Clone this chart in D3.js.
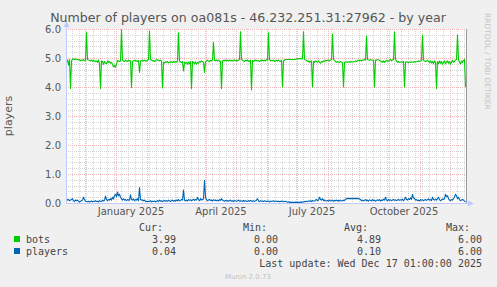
<!DOCTYPE html>
<html>
<head>
<meta charset="utf-8">
<script src="https://cdn.jsdelivr.net/npm/d3@7/dist/d3.min.js"></script>
<style>
body { margin: 0; background: #f0f0f0; }
text { font-family: "DejaVu Sans", sans-serif; fill: #555; }
.mono { font-family: "DejaVu Sans Mono", monospace; font-size: 10px; fill: #444; }
</style>
</head>
<body>
<div id="chart"></div>
<script>
// daily values, first day = Nov 12 2024
var startDay = "2024-11-12", endDay = "2025-12-17";

var bots = [
  4.85,4.93,4.75,4.95,3.95,4.9,4.97,4.96,4.95,4.97,
  4.96,4.95,4.93,4.95,4.9,4.93,4.92,4.95,4.9,4.93,
  5.88,4.95,4.93,4.92,4.9,4.93,4.88,4.92,4.9,4.88,
  4.9,4.85,4.93,4.8,3.95,4.9,4.88,4.78,4.88,4.82,
  4.8,4.9,4.85,4.88,4.82,4.85,4.78,4.7,4.75,4.68,
  4.8,4.92,4.9,4.88,4.9,5.97,4.93,4.9,4.88,4.92,
  4.9,4.88,4.92,4.9,4.9,3.98,4.88,4.9,4.92,4.9,
  4.9,4.88,4.92,4.5,4.9,4.92,4.9,4.9,4.92,4.9,
  4.9,4.92,4.95,5.93,4.95,4.93,4.9,4.92,4.88,4.9,
  4.95,4.92,4.93,4.9,4.92,4.9,3.97,4.85,4.83,4.87,
  4.85,4.88,4.83,4.86,4.85,4.87,4.84,4.88,4.85,4.88,
  4.86,4.9,5.87,4.9,4.86,4.84,4.88,4.55,4.85,4.82,
  4.85,4.78,4.86,4.8,4.88,3.95,4.88,4.85,4.8,4.87,
  4.78,4.85,4.82,4.88,4.86,4.9,4.88,4.85,4.5,4.88,
  4.9,4.92,4.9,4.88,4.92,4.9,4.93,5.54,4.92,4.9,
  4.93,4.9,4.92,4.9,4.88,3.95,4.9,4.92,4.9,4.93,
  4.9,4.92,4.9,4.93,4.9,4.92,4.9,4.92,4.93,4.9,
  4.92,4.9,4.93,4.95,5.9,4.95,4.93,4.9,4.88,4.92,
  4.9,4.93,4.88,4.9,4.92,3.9,4.92,4.88,4.9,4.93,
  4.9,4.92,4.9,4.88,4.92,4.9,4.93,4.9,4.92,4.9,
  4.95,4.93,5.87,4.95,4.9,4.92,4.9,4.93,4.88,4.9,
  4.92,4.9,4.93,4.9,4.88,4.92,4.0,4.9,4.92,4.95,
  4.95,4.95,4.95,4.95,4.95,4.95,4.95,4.95,4.95,4.96,
  4.96,4.97,4.98,4.98,4.97,4.98,4.97,5.9,4.97,4.93,
  4.92,4.88,4.9,4.85,4.88,4.9,4.0,4.88,4.85,4.9,
  4.88,4.86,4.9,4.85,4.82,4.88,4.86,4.9,4.88,4.92,
  4.9,4.93,4.92,4.9,4.93,4.95,5.83,4.95,4.92,4.88,
  4.85,4.88,4.86,4.85,4.88,4.86,4.84,4.0,4.85,4.86,
  4.87,4.85,4.86,4.87,4.85,4.88,4.86,4.87,4.88,4.9,
  4.88,4.9,4.93,4.9,4.92,4.9,4.93,4.92,4.95,4.93,
  5.76,4.95,4.93,4.92,4.95,4.93,4.92,4.93,4.0,4.93,
  4.92,4.95,4.93,4.92,4.9,4.88,4.85,4.9,4.85,4.88,
  4.92,4.9,4.88,4.92,4.95,4.9,4.93,4.95,5.9,4.95,
  4.9,4.85,4.88,4.85,4.86,4.87,4.85,4.88,4.0,4.85,
  4.87,4.85,4.84,4.86,4.85,4.87,4.86,4.85,4.88,4.86,
  4.87,4.88,4.9,4.88,4.9,4.92,5.79,4.93,4.9,4.88,
  4.9,4.92,4.88,4.85,4.9,4.83,4.88,4.8,4.9,4.85,
  3.95,4.88,4.8,4.9,4.82,4.88,4.78,4.85,4.9,4.8,
  4.85,4.9,4.82,4.88,4.78,4.86,4.92,4.85,4.88,4.93,
  4.95,5.79,4.95,4.85,4.8,4.9,4.85,4.92,4.95,3.99
];

var players = [
  .15,.1,.12,.08,.1,.12,.15,.08,.05,.1,
  .08,.1,.06,.03,.06,.08,.1,.2,.12,.06,
  .05,.04,.06,.03,.05,.07,.04,.06,.05,.08,
  .05,.06,.04,.08,.06,.05,.1,.07,.09,.24,
  .12,.08,.12,.1,.15,.1,.2,.14,.25,.3,
  .22,.38,.25,.3,.2,.15,.1,.14,.1,.12,
  .08,.12,.1,.1,.28,.12,.1,.14,.08,.12,
  .1,.15,.08,.53,.12,.1,.1,.08,.1,.05,
  .06,.04,.06,.05,.08,.04,.06,.05,.07,.04,
  .06,.08,.05,.1,.06,.08,.05,.07,.09,.06,
  .08,.06,.1,.07,.05,.08,.1,.06,.09,.07,
  .1,.08,.12,.07,.09,.12,.1,.45,.1,.08,
  .1,.07,.12,.09,.11,.08,.1,.13,.09,.12,
  .1,.2,.12,.08,.15,.1,.12,.14,.78,.2,
  .12,.08,.1,.12,.09,.1,.07,.11,.09,.1,
  .08,.1,.07,.12,.09,.15,.1,.08,.06,.09,
  .07,.09,.06,.08,.1,.06,.08,.05,.09,.07,
  .06,.08,.1,.06,.08,.07,.05,.09,.06,.08,
  .07,.05,.08,.06,.09,.07,.05,.08,.06,.07,
  .1,.15,.07,.05,.08,.06,.07,.05,.08,.06,
  .05,.07,.06,.04,.07,.05,.06,.08,.05,.06,
  .07,.05,.06,.04,.06,.05,.07,.04,.05,.06,
  .04,.03,.04,.02,.03,.02,.03,.02,.02,.03,
  .02,.03,.02,.02,.03,.02,.04,.03,.05,.04,
  .06,.05,.07,.06,.08,.05,.09,.07,.06,.1,
  .12,.08,.1,.2,.12,.1,.15,.09,.1,.08,
  .07,.09,.06,.1,.08,.07,.1,.06,.09,.08,
  .1,.07,.09,.06,.1,.08,.07,.1,.09,.12,
  .15,.16,.15,.16,.15,.16,.15,.16,.15,.16,
  .15,.16,.15,.14,.12,.08,.1,.07,.09,.12,
  .08,.1,.06,.11,.09,.07,.12,.08,.1,.06,
  .09,.11,.08,.12,.07,.1,.09,.13,.1,.2,
  .1,.08,.12,.09,.11,.08,.1,.12,.09,.11,
  .08,.1,.12,.09,.11,.1,.13,.08,.12,.2,
  .12,.1,.15,.12,.18,.12,.3,.18,.15,.1,
  .12,.08,.1,.07,.12,.09,.11,.08,.1,.12,
  .09,.11,.14,.1,.12,.08,.2,.12,.1,.13,
  .1,.15,.2,.12,.08,.1,.14,.12,.15,.3,
  .22,.25,.15,.1,.08,.12,.1,.15,.2,.3,
  .25,.15,.2,.12,.08,.1,.12,.1,.06,.04
];

var yTicks = [0, 1, 2, 3, 4, 5, 6];
var xTickLabels = ["January 2025", "April 2025", "July 2025", "October 2025"];

var seriesNames = ["bots", "players"];
var seriesColors = ["#00cc00", "#0066b3"];
var curVals = ["3.99", "0.04"];
var minVals = ["0.00", "0.00"];
var avgVals = ["4.89", "0.10"];
var maxVals = ["6.00", "6.00"];

var width = 497, height = 287;
var svg = d3.select("#chart").append("svg")
    .attr("width", width)
    .attr("height", height);

var parseDay = d3.utcParse("%Y-%m-%d");
var t0 = parseDay(startDay), t1 = parseDay(endDay);

var x = d3.scaleUtc().domain([t0, t1]).range([66, 466]);
var y = d3.scaleLinear().domain([0, 6]).range([203, 29]);

function dayOf(i) { return d3.utcHour.offset(t0, i * 24 + 12); }

// canvas
svg.append("rect")
    .attr("x", 66).attr("y", 29)
    .attr("width", 400).attr("height", 174)
    .attr("fill", "#fff");

var grid = svg.append("g").attr("shape-rendering", "crispEdges");
var minorCol = "#d6d6d6", majorCol = "#f0b8b8";

// minor grid
var yMinor = d3.range(0, 6.01, 0.2).filter(function(v) { return Math.abs(v - Math.round(v)) > 0.01; });
grid.selectAll(".ymin").data(yMinor).enter().append("line")
    .attr("x1", 66).attr("x2", 466)
    .attr("y1", function(d) { return Math.round(y(d)) + 0.5; })
    .attr("y2", function(d) { return Math.round(y(d)) + 0.5; })
    .attr("stroke", minorCol).attr("stroke-dasharray", "1,1");

grid.selectAll(".xmin").data(x.ticks(d3.utcMonday)).enter().append("line")
    .attr("y1", 29).attr("y2", 203)
    .attr("x1", function(d) { return Math.round(x(d)) + 0.5; })
    .attr("x2", function(d) { return Math.round(x(d)) + 0.5; })
    .attr("stroke", minorCol).attr("stroke-dasharray", "1,1");

// major grid
grid.selectAll(".ymaj").data(yTicks).enter().append("line")
    .attr("x1", 66).attr("x2", 466)
    .attr("y1", function(d) { return Math.round(y(d)) + 0.5; })
    .attr("y2", function(d) { return Math.round(y(d)) + 0.5; })
    .attr("stroke", majorCol).attr("stroke-dasharray", "1,1");

grid.selectAll(".xmaj").data(x.ticks(d3.utcMonth)).enter().append("line")
    .attr("y1", 29).attr("y2", 203)
    .attr("x1", function(d) { return Math.round(x(d)) + 0.5; })
    .attr("x2", function(d) { return Math.round(x(d)) + 0.5; })
    .attr("stroke", majorCol).attr("stroke-dasharray", "1,1");

// series
var line = d3.line()
    .x(function(d, i) { return x(dayOf(i)); })
    .y(function(d) { return y(d); });

[bots, players].forEach(function(s, k) {
    svg.append("path")
        .datum(s)
        .attr("d", line)
        .attr("fill", "none")
        .attr("stroke", seriesColors[k])
        .attr("stroke-width", 1.1)
        .attr("stroke-linejoin", "round");
});

// axes
var axisCol = "#c0caff";
svg.append("line").attr("x1", 66.5).attr("x2", 66.5).attr("y1", 203).attr("y2", 25)
    .attr("stroke", axisCol);
svg.append("path").attr("d", "M63.5,27 L66.5,21 L69.5,27 Z").attr("fill", axisCol);
svg.append("line").attr("x1", 66).attr("x2", 470).attr("y1", 203.5).attr("y2", 203.5)
    .attr("stroke", axisCol);
svg.append("path").attr("d", "M468,200.5 L474,203.5 L468,206.5 Z").attr("fill", axisCol);
svg.append("line").attr("x1", 466.5).attr("x2", 466.5).attr("y1", 29).attr("y2", 203)
    .attr("stroke", "#999");

// y tick labels
svg.selectAll(".ylab").data(yTicks).enter().append("text")
    .attr("x", 61)
    .attr("y", function(d) { return y(d) + 3.5; })
    .attr("text-anchor", "end")
    .attr("font-size", 10)
    .text(d3.format(".1f"));

// x tick labels, centred on mid-month
var parseMonth = d3.utcParse("%B %Y");
svg.selectAll(".xlab").data(xTickLabels).enter().append("text")
    .attr("x", function(d) { return x(d3.utcDay.offset(parseMonth(d), 15)); })
    .attr("y", 215)
    .attr("text-anchor", "middle")
    .attr("font-size", 10)
    .text(function(d) { return d; });

// title and labels
svg.append("text")
    .attr("x", 248).attr("y", 22)
    .attr("text-anchor", "middle")
    .attr("font-size", 12.6)
    .text("Number of players on oa081s - 46.232.251.31:27962 - by year");

svg.append("text")
    .attr("transform", "translate(12,116) rotate(-90)")
    .attr("text-anchor", "middle")
    .attr("font-size", 11)
    .text("players");

svg.append("text")
    .attr("transform", "translate(485,13) rotate(90)")
    .attr("font-size", 7.5)
    .style("fill", "#c4c4c4")
    .text("RRDTOOL / TOBI OETIKER");

// legend
var headX = [163, 267, 368, 470];
var colX = [176, 278, 381, 482];
["Cur:", "Min:", "Avg:", "Max:"].forEach(function(h, j) {
    svg.append("text").attr("class", "mono")
        .attr("x", headX[j]).attr("y", 231)
        .attr("text-anchor", "end").text(h);
});

seriesNames.forEach(function(n, k) {
    var yy = 243 + k * 12;
    svg.append("rect")
        .attr("x", 14).attr("y", yy - 7)
        .attr("width", 6).attr("height", 6)
        .attr("fill", seriesColors[k]);
    svg.append("text").attr("class", "mono")
        .attr("x", 26).attr("y", yy).text(n);
    [curVals, minVals, avgVals, maxVals].forEach(function(arr, j) {
        svg.append("text").attr("class", "mono")
            .attr("x", colX[j]).attr("y", yy)
            .attr("text-anchor", "end").text(arr[k]);
    });
});

svg.append("text").attr("class", "mono")
    .attr("x", 482).attr("y", 267)
    .attr("text-anchor", "end")
    .text("Last update: Wed Dec 17 01:00:00 2025");

svg.append("text")
    .attr("x", 248).attr("y", 279)
    .attr("text-anchor", "middle")
    .attr("font-size", 7)
    .style("fill", "#c0c0c0")
    .text("Munin 2.0.73");
</script>
</body>
</html>
